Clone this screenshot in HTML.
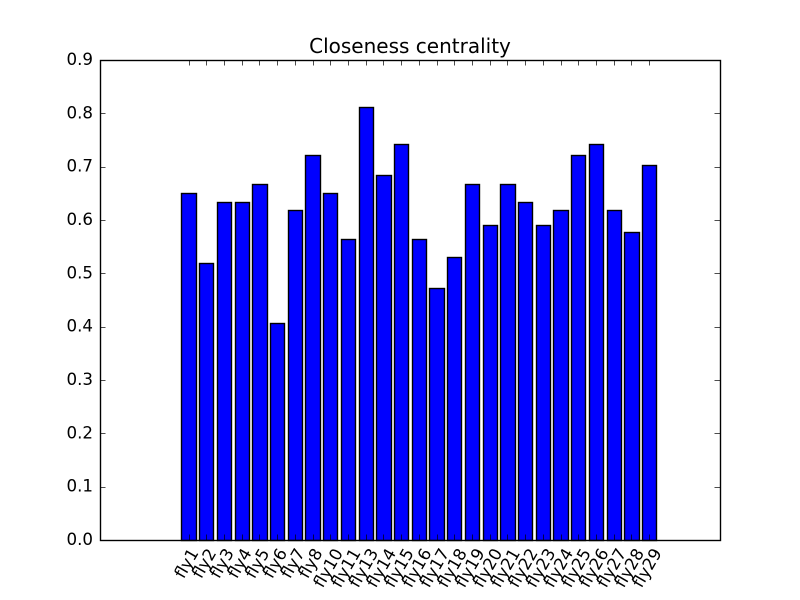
<!DOCTYPE html>
<html>
<head>
<meta charset="utf-8">
<style>
html,body{margin:0;padding:0;background:#fff}
svg{display:block}
text{font-family:"DejaVu Sans","Liberation Sans",sans-serif;fill:#000}
</style>
</head>
<body>
<svg id="chart" width="800" height="600" viewBox="0 0 800 600" xmlns="http://www.w3.org/2000/svg">
<rect x="0" y="0" width="800" height="600" fill="#fff"/>
<g id="bars"></g>
<g id="ticks"></g>
<rect x="100.5" y="60.5" width="620" height="480" fill="none" stroke="#000" stroke-width="1.39"/>
<g id="labels"></g>
<text x="410" y="53" text-anchor="middle" font-size="20">Closeness centrality</text>
</svg>
<script>
const categories = ["fly1","fly2","fly3","fly4","fly5","fly6","fly7","fly8","fly10","fly11","fly13","fly14","fly15","fly16","fly17","fly18","fly19","fly20","fly21","fly22","fly23","fly24","fly25","fly26","fly27","fly28","fly29"];
const closeness = [0.65,0.519,0.633,0.633,0.667,0.406,0.619,0.722,0.65,0.565,0.811,0.684,0.742,0.565,0.472,0.53,0.667,0.59,0.667,0.633,0.59,0.619,0.722,0.742,0.619,0.577,0.703];
const yTickLabels = ["0.0","0.1","0.2","0.3","0.4","0.5","0.6","0.7","0.8","0.9"];
const xDomain = [-5, 30];
const yDomain = [0, 0.9];
const barWidth = 0.8;

const NS = "http://www.w3.org/2000/svg";
const plot = {left:100, right:720, top:60, bottom:540};
function xScale(v){ return plot.left + (v - xDomain[0]) / (xDomain[1] - xDomain[0]) * (plot.right - plot.left); }
function yScale(v){ return plot.bottom - (v - yDomain[0]) / (yDomain[1] - yDomain[0]) * (plot.bottom - plot.top); }
function snap(p){ return Math.floor(p + 0.5) + 0.5; }
function make(tag, attrs, parent){
  const el = document.createElementNS(NS, tag);
  for (const k in attrs) el.setAttribute(k, attrs[k]);
  parent.appendChild(el);
  return el;
}
const barsG = document.getElementById('bars');
const ticksG = document.getElementById('ticks');
const labelsG = document.getElementById('labels');

closeness.forEach(function(v, i){
  const x0 = snap(xScale(i - barWidth / 2)), x1 = snap(xScale(i + barWidth / 2));
  const y0 = snap(yScale(v)), y1 = snap(yScale(0));
  const r = make('rect', {x:x0, y:y0, width:x1 - x0, height:y1 - y0, fill:'#0000ff', stroke:'#000', 'stroke-width':1.39}, barsG);
  
  
});

categories.forEach(function(c, i){
  const x = snap(xScale(i));
  const t1 = make('line', {x1:x, x2:x, y1:plot.bottom, y2:plot.bottom - 5.5, stroke:'#000', 'stroke-width':0.7}, ticksG);
  
  
  const t2 = make('line', {x1:x, x2:x, y1:plot.top, y2:plot.top + 5.5, stroke:'#000', 'stroke-width':0.7}, ticksG);
  
  

  const cx = xScale(i) - 2;
  const lab = make('text', {x:cx, y:0, 'text-anchor':'middle', 'font-size':16.67}, labelsG);
  lab.textContent = c;
  
  
  const w = lab.getComputedTextLength();
  const h = 16;
  const a = 60 * Math.PI / 180;
  const bboxH = w * Math.sin(a) + h * Math.cos(a);
  const cy = plot.bottom + 6 + bboxH / 2;
  lab.setAttribute('y', cy + 5.5);
  lab.setAttribute('transform', 'rotate(-60 ' + cx + ' ' + cy + ')');
});

yTickLabels.forEach(function(s){
  const v = parseFloat(s);
  const y = snap(yScale(v));
  const t1 = make('line', {x1:plot.left, x2:plot.left + 5.5, y1:y, y2:y, stroke:'#000', 'stroke-width':0.7}, ticksG);
  
  
  const t2 = make('line', {x1:plot.right, x2:plot.right - 5.5, y1:y, y2:y, stroke:'#000', 'stroke-width':0.7}, ticksG);
  
  
  const lab = make('text', {x:plot.left - 7, y:yScale(v) + 5, 'text-anchor':'end', 'font-size':16.67}, labelsG);
  lab.textContent = s;
  
  
});
</script>
</body>
</html>
